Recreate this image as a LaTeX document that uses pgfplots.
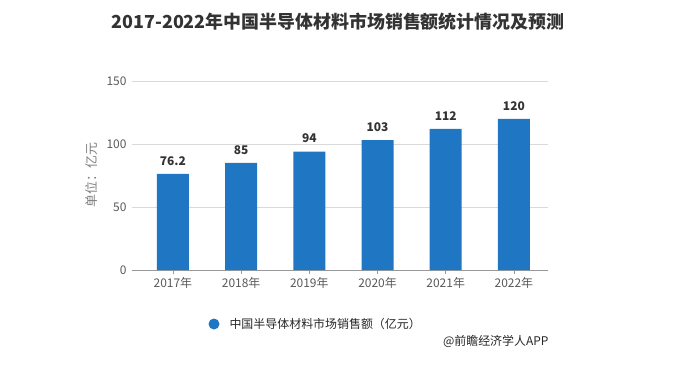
\documentclass[border=0pt]{standalone}
\usepackage{fontspec}
\setmainfont{Noto Sans CJK SC}
\usepackage{pgfplots}
\pgfplotsset{compat=1.18}
\definecolor{barblue}{RGB}{31,119,195}
\definecolor{gridgray}{RGB}{217,217,217}
\definecolor{ticktext}{RGB}{89,89,89}
\definecolor{titletext}{RGB}{51,51,51}
\begin{document}
\begin{tikzpicture}[x=1bp,y=1bp]
\useasboundingbox (0,0) rectangle (689,371);
\node[font=\bfseries\fontsize{18}{21}\selectfont, text=titletext] at (338,349) {2017-2022年中国半导体材料市场销售额统计情况及预测};
\begin{axis}[
  at={(132bp,101bp)}, anchor=south west,
  scale only axis, width=416bp, height=189bp,
  xmin=-0.6, xmax=5.5, ymin=0, ymax=150,
  xtick={0,1,2,3,4,5},
  xticklabels={2017年,2018年,2019年,2020年,2021年,2022年},
  ytick={0,50,100,150},
  /pgf/number format/assume math mode=true,
  ymajorgrids, grid style={gridgray, line width=0.6pt},
  axis x line*=bottom, axis y line*=left,
  y axis line style={draw=none},
  x axis line style={draw=gray!80, line width=0.6pt, -},
  xtick style={draw=gray!80, line width=0.6pt},
  xtick align=outside, major tick length=4bp,
  ytick style={draw=none},
  yticklabel style={font=\fontsize{12}{14}\selectfont, text=ticktext, xshift=-2bp},
  xticklabel style={font=\fontsize{12}{14}\selectfont, text=ticktext},
  nodes near coords,
  every node near coord/.append style={font=\bfseries\fontsize{12}{14}\selectfont, text=titletext, yshift=5bp},
  clip=false,
]
\addplot[ybar, bar width=32bp, fill=barblue, draw=none] coordinates {(0,76.2) (1,85) (2,94) (3,103) (4,112) (5,120)};
\end{axis}
\node[rotate=90, font=\fontsize{13}{15}\selectfont, text=gray] at (92,196) {单位：亿元};
\fill[barblue] (214,47) circle (5.5);
\node[anchor=west, font=\fontsize{12}{14}\selectfont, text=black!85] at (226,47) {中国半导体材料市场销售额（亿元）};
\node[anchor=east, font=\fontsize{12}{14}\selectfont, text=black!85] at (552,30) {@前瞻经济学人APP};
\end{tikzpicture}
\end{document}
